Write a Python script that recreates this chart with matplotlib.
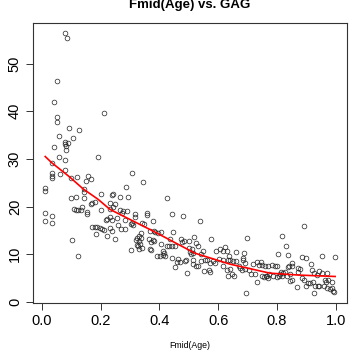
import matplotlib
matplotlib.use("Agg")
import matplotlib.pyplot as plt

fmid = [0.080, 0.086, 0.051, 0.041, 0.213, 0.051, 0.051, 0.092, 0.127, 0.060,
        0.108, 0.080, 0.078, 0.091, 0.082, 0.042, 0.083, 0.193, 0.060, 0.079,
        0.036, 0.080, 0.061, 0.035, 0.035, 0.035, 0.100, 0.121, 0.159, 0.167,
        0.150, 0.012, 0.012, 0.143, 0.144, 0.203, 0.099, 0.118, 0.144, 0.239,
        0.171, 0.181, 0.167, 0.202, 0.138, 0.135, 0.122, 0.111, 0.116, 0.153,
        0.155, 0.012, 0.035, 0.012, 0.035, 0.231, 0.243, 0.221, 0.231, 0.220,
        0.171, 0.180, 0.189, 0.197, 0.205, 0.212, 0.185, 0.222, 0.233, 0.238,
        0.104, 0.123, 0.308, 0.346, 0.286, 0.244, 0.265, 0.295, 0.425, 0.232,
        0.248, 0.265, 0.277, 0.289, 0.273, 0.318, 0.316, 0.357, 0.358, 0.444,
        0.482, 0.255, 0.240, 0.282, 0.303, 0.307, 0.310, 0.342, 0.348, 0.378,
        0.261, 0.271, 0.283, 0.368, 0.381, 0.386, 0.394, 0.405, 0.448, 0.337,
        0.331, 0.250, 0.323, 0.321, 0.337, 0.331, 0.366, 0.377, 0.383, 0.371,
        0.437, 0.474, 0.476, 0.485, 0.500, 0.519, 0.325, 0.334, 0.329, 0.340,
        0.332, 0.407, 0.425, 0.434, 0.443, 0.455, 0.367, 0.371, 0.305, 0.412,
        0.416, 0.412, 0.418, 0.391, 0.402, 0.442, 0.465, 0.470, 0.460, 0.492,
        0.488, 0.504, 0.509, 0.514, 0.511, 0.500, 0.455, 0.495, 0.516, 0.516,
        0.539, 0.699, 0.524, 0.531, 0.576, 0.550, 0.542, 0.593, 0.607, 0.622,
        0.629, 0.617, 0.638, 0.662, 0.689, 0.686, 0.661, 0.525, 0.531, 0.543,
        0.555, 0.563, 0.572, 0.582, 0.590, 0.552, 0.569, 0.572, 0.603, 0.616,
        0.640, 0.650, 0.634, 0.618, 0.629, 0.640, 0.633, 0.647, 0.654, 0.674,
        0.682, 0.691, 0.671, 0.686, 0.691, 0.706, 0.718, 0.732, 0.746, 0.749,
        0.740, 0.711, 0.724, 0.731, 0.750, 0.756, 0.767, 0.772, 0.695, 0.893,
        0.816, 0.830, 0.805, 0.837, 0.884, 0.900, 0.954, 0.999, 0.915, 0.850,
        0.852, 0.841, 0.839, 0.873, 0.878, 0.873, 0.760, 0.771, 0.784, 0.794,
        0.801, 0.815, 0.822, 0.829, 0.812, 0.799, 0.788, 0.762, 0.771, 0.807,
        0.818, 0.833, 0.846, 0.850, 0.846, 0.918, 0.925, 0.935, 0.943, 0.952,
        0.970, 0.975, 0.964, 0.884, 0.893, 0.905, 0.913, 0.924, 0.930, 0.939,
        0.944, 0.959, 0.971, 0.982, 0.990, 0.995, 0.986, 0.966, 0.986, 0.925,
        0.868, 0.899]

gag = [56.4, 55.5, 46.4, 42.0, 39.6, 38.7, 37.7, 36.4, 36.1, 34.8,
       34.4, 33.5, 33.1, 33.3, 32.8, 32.6, 31.9, 30.5, 30.5, 29.7,
       29.1, 27.7, 26.8, 27.0, 26.4, 26.0, 26.0, 26.3, 26.4, 25.8,
       25.4, 23.9, 23.2, 23.7, 23.0, 22.6, 21.7, 21.9, 21.7, 22.4,
       20.7, 21.0, 20.5, 19.3, 20.0, 19.3, 19.3, 19.4, 19.3, 18.8,
       18.4, 18.6, 18.0, 17.0, 16.5, 19.5, 19.8, 17.3, 17.8, 17.1,
       15.8, 15.8, 15.6, 15.4, 15.2, 15.1, 14.2, 13.8, 15.5, 14.9,
       12.9, 9.6, 27.0, 25.1, 24.1, 22.6, 22.0, 21.9, 21.7, 20.7,
       20.5, 19.2, 19.0, 19.0, 18.6, 18.4, 17.9, 18.6, 18.2, 18.4,
       18.0, 17.5, 17.2, 17.2, 16.3, 16.6, 16.1, 16.6, 16.3, 16.9,
       16.1, 15.3, 15.2, 14.9, 14.8, 14.6, 14.4, 14.7, 14.6, 14.4,
       13.9, 13.1, 13.4, 13.0, 13.3, 12.7, 13.2, 13.0, 12.8, 12.6,
       13.1, 13.2, 12.5, 12.8, 12.8, 13.5, 12.0, 12.2, 11.6, 11.2,
       11.0, 12.1, 11.8, 11.6, 11.6, 11.6, 11.1, 10.9, 10.9, 10.7,
       10.2, 9.9, 9.6, 9.7, 9.5, 9.1, 8.9, 8.3, 8.4, 8.7,
       8.6, 10.4, 10.0, 10.2, 11.0, 11.3, 7.3, 6.0, 7.9, 8.8,
       16.9, 13.4, 12.4, 11.8, 13.2, 10.6, 10.0, 10.6, 11.1, 11.4,
       10.6, 10.6, 9.7, 10.4, 10.3, 9.1, 8.5, 7.6, 7.4, 8.6,
       8.8, 8.8, 8.2, 8.5, 8.1, 6.5, 6.7, 6.3, 9.0, 8.8,
       8.8, 8.6, 8.8, 7.6, 6.6, 6.8, 5.5, 5.8, 5.5, 7.0,
       6.7, 6.9, 7.4, 8.8, 8.1, 6.7, 7.9, 8.3, 8.4, 7.7,
       7.8, 5.8, 5.8, 4.1, 5.3, 5.2, 5.3, 5.8, 1.8, 15.9,
       13.8, 11.7, 10.0, 9.8, 9.3, 9.1, 9.7, 9.3, 7.9, 8.1,
       7.6, 7.5, 7.2, 7.0, 6.8, 6.3, 7.5, 7.4, 7.7, 7.4,
       7.5, 6.3, 6.1, 6.2, 5.8, 5.1, 5.3, 5.3, 5.0, 5.3,
       5.3, 5.3, 5.8, 4.6, 4.3, 6.7, 6.0, 5.6, 6.4, 6.0,
       6.0, 4.6, 4.6, 4.9, 4.6, 3.9, 3.9, 4.2, 3.3, 3.4,
       3.2, 3.4, 2.9, 2.6, 2.3, 2.0, 2.9, 4.1, 4.1, 1.9,
       3.0, 3.4]

fit_x = [0.012, 0.034, 0.079, 0.097, 0.141, 0.192, 0.232, 0.380, 0.521,
         0.640, 0.776, 0.873, 0.998]
fit_y = [30.5, 29.2, 27.0, 26.1, 23.7, 21.5, 19.4, 14.8, 10.2,
         7.9, 6.0, 5.6, 5.3]

x_ticks = [0.0, 0.2, 0.4, 0.6, 0.8, 1.0]
y_ticks = [0, 10, 20, 30, 40, 50]

plt.rcParams['font.family'] = ['Liberation Sans', 'DejaVu Sans']

fig = plt.figure(figsize=(3.59, 3.59), dpi=100)
ax = fig.add_axes([33/359, 56/359, 314/359, 280/359])

ax.plot(fmid, gag, linestyle='none', marker='o', markersize=3.4,
        markerfacecolor='none', markeredgecolor='#222222', markeredgewidth=0.5)
ax.plot(fit_x, fit_y, color='#ff0000', linewidth=1.2)

ax.set_xlim(-0.0296, 1.0384)
ax.set_ylim(-0.27, 58.55)
ax.set_xticks(x_ticks)
ax.set_xticklabels([f"{v:.1f}" for v in x_ticks])
ax.set_yticks(y_ticks)
ax.set_yticklabels([str(v) for v in y_ticks], rotation=90, va='center')
ax.tick_params(axis='both', direction='out', length=5, width=0.7,
               labelsize=10.5, color='#333333', labelcolor='black', pad=3)
for s in ax.spines.values():
    s.set_linewidth(0.8)
    s.set_color('#333333')

fig.text(190/359, 1 - 5/359, "Fmid(Age) vs. GAG", ha='center', va='center',
         fontsize=9.5, fontweight='bold')
fig.text(190/359, 1 - 345/359, "Fmid(Age)", ha='center', va='center', fontsize=6.3)

fig.savefig("out.png", dpi=100)
